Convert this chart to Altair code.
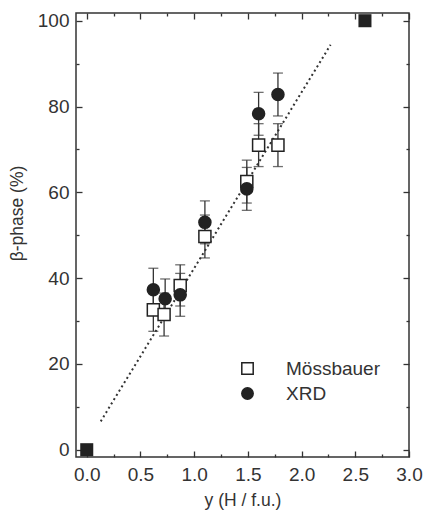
import altair as alt
import pandas as pd

# ---- data ----
moss_x = [0.62, 0.72, 0.87, 1.10, 1.49, 1.60, 1.78]
moss_y = [32.6, 31.5, 38.3, 49.7, 62.5, 71.0, 71.0]
moss_err = [5.0, 5.0, 4.8, 5.0, 5.0, 5.0, 5.0]

xrd_x = [0.62, 0.73, 0.87, 1.10, 1.49, 1.60, 1.78]
xrd_y = [37.3, 35.2, 36.1, 53.0, 60.8, 78.3, 82.8]
xrd_err = [5.0, 4.6, 5.0, 5.0, 5.0, 5.0, 5.0]

end_x = [0.0, 2.59]
end_y = [0.0, 100.0]

fit_x = [0.13, 2.27]
fit_y = [6.6, 94.4]

series_names = ["Mössbauer", "XRD"]

x_major = [0.0, 0.5, 1.0, 1.5, 2.0, 2.5, 3.0]
x_minor = [0.25, 0.75, 1.25, 1.75, 2.25, 2.75]
y_major = [0, 20, 40, 60, 80, 100]
y_minor = [10, 30, 50, 70, 90]

x_domain = [-0.1, 3.0]
y_domain = [-1.7, 101.8]

# ---- tables ----
moss = pd.DataFrame({"x": moss_x, "y": moss_y, "err": moss_err, "series": series_names[0]})
xrd = pd.DataFrame({"x": xrd_x, "y": xrd_y, "err": xrd_err, "series": series_names[1]})
pts = pd.concat([moss, xrd], ignore_index=True)
pts["lo"] = pts["y"] - pts["err"]
pts["hi"] = pts["y"] + pts["err"]
ends = pd.DataFrame({"x": end_x, "y": end_y})
fit = pd.DataFrame({"x": fit_x, "y": fit_y})

FONT = "Liberation Sans"
INK = "#333333"
LFS = 19
TFS = 17.5

xs = alt.Scale(domain=x_domain, nice=False, zero=False)
ys = alt.Scale(domain=y_domain, nice=False, zero=False)


def ax(orient, values, size, labels=False, title=None, fmt=None, lpad=5, tpad=6, extra=None):
    kw = dict(orient=orient, values=values, tickSize=size, offset=-size,
              domain=False, grid=False, tickColor=INK, tickWidth=1.3,
              labels=labels, title=title, labelFlush=False)
    if labels:
        kw.update(labelFont=FONT, labelFontSize=LFS, labelColor=INK, labelPadding=lpad)
        if fmt:
            kw["format"] = fmt
    if title:
        kw.update(titleFont=FONT, titleFontSize=TFS, titleColor=INK,
                  titleFontWeight="normal", titlePadding=tpad)
    if extra:
        kw.update(extra)
    return alt.Axis(**kw)


line = alt.Chart(fit).mark_line(strokeDash=[2, 3], strokeWidth=2, color=INK).encode(
    x=alt.X("x:Q", scale=xs, axis=ax("bottom", x_major, 6, True, "y (H / f.u.)", ".1f", 8, 7)),
    y=alt.Y("y:Q", scale=ys, axis=ax("left", y_major, 6, True, "β-phase (%)", "d", 7, 11,
                                     {"titleY": 200})),
)

rules = alt.Chart(pts).mark_rule(strokeWidth=1.3, color=INK).encode(
    x=alt.X("x:Q", scale=xs, axis=ax("bottom", x_minor, 3)),
    y=alt.Y("lo:Q", scale=ys, axis=ax("left", y_minor, 3)),
    y2="hi:Q",
)

caps_hi = alt.Chart(pts).mark_tick(orient="horizontal", size=10, thickness=1.3, color=INK).encode(
    x=alt.X("x:Q", scale=xs, axis=ax("top", x_major, 6)),
    y=alt.Y("hi:Q", scale=ys, axis=ax("right", y_major, 6)),
)

caps_lo = alt.Chart(pts).mark_tick(orient="horizontal", size=10, thickness=1.3, color=INK).encode(
    x=alt.X("x:Q", scale=xs, axis=ax("top", x_minor, 3)),
    y=alt.Y("lo:Q", scale=ys, axis=ax("right", y_minor, 3)),
)

end_pts = alt.Chart(ends).mark_point(shape="square", filled=True, size=170, color="#222222", opacity=1).encode(
    x=alt.X("x:Q", scale=xs, axis=None),
    y=alt.Y("y:Q", scale=ys, axis=None),
)

leg = alt.Legend(title=None, orient="none", legendX=162, legendY=346, padding=0,
                 labelFont=FONT, labelFontSize=LFS, labelColor=INK, labelOffset=29,
                 symbolSize=130, symbolStrokeWidth=1.5,
                 symbolOpacity=1, rowPadding=5)

points = alt.Chart(pts).mark_point(filled=True, size=145, strokeWidth=1.5, opacity=1).encode(
    x=alt.X("x:Q", scale=xs, axis=None),
    y=alt.Y("y:Q", scale=ys, axis=None),
    shape=alt.Shape("series:N", scale=alt.Scale(domain=series_names, range=["square", "circle"]), legend=leg),
    fill=alt.Fill("series:N", scale=alt.Scale(domain=series_names, range=["white", "#222222"]), legend=leg),
    stroke=alt.Stroke("series:N", scale=alt.Scale(domain=series_names, range=["#222222", "#222222"]), legend=leg),
)

chart = alt.layer(line, rules, caps_hi, caps_lo, end_pts, points).resolve_axis(
    x="independent", y="independent"
).properties(
    width=333, height=444,
    autosize=alt.AutoSizeParams(type="none"),
    padding={"left": 68, "top": 5, "right": 14, "bottom": 55},
).configure_view(stroke=INK, strokeWidth=1.5)

chart.save("out.html", embed_options={"renderer": "svg", "actions": False})
